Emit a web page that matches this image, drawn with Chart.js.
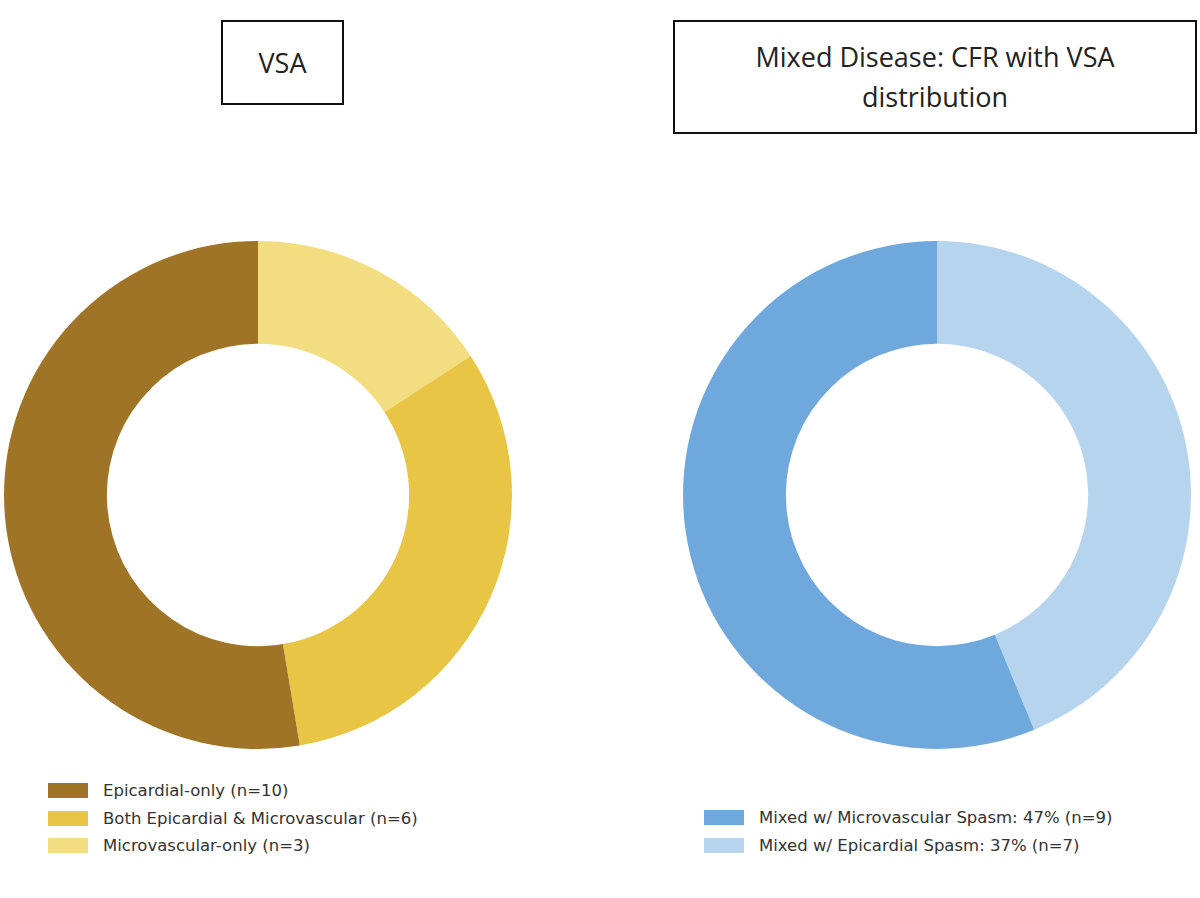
<!DOCTYPE html>
<html><head><meta charset="utf-8">
<script src="https://cdn.jsdelivr.net/npm/chart.js@4"></script>
<style>
body{margin:0;width:1200px;height:898px;background:#fff;position:relative;overflow:hidden;font-family:"DejaVu Sans",sans-serif;}
.title{position:absolute;border:2px solid #111;box-sizing:border-box;font-family:"Open Sans",sans-serif;font-size:27px;color:#222;text-align:center;display:flex;align-items:center;justify-content:center;line-height:40px;}
.cw{position:absolute;width:520px;height:520px;}
.leg{position:absolute;font-size:16.5px;color:#333;}
.row{height:27.5px;display:flex;align-items:center;}
.sw{width:40px;height:15px;margin-right:15px;}
</style></head><body>
<div class="title" style="left:221px;top:20px;width:123px;height:85px;">VSA</div>
<div class="title" style="left:673px;top:20px;width:524px;height:114px;">Mixed Disease: CFR with VSA<br>distribution</div>
<div class="cw" style="left:-2px;top:235px;"><canvas id="c1"></canvas></div>
<div class="cw" style="left:677px;top:235px;"><canvas id="c2"></canvas></div>
<div class="leg" id="l1" style="left:48px;top:777px;"></div>
<div class="leg" id="l2" style="left:704px;top:804px;"></div>
<script>
const vsaLabels=["Epicardial-only (n=10)","Both Epicardial & Microvascular (n=6)","Microvascular-only (n=3)"];
const vsaValues=[10,6,3];
const vsaColors=["#A07426","#E8C545","#F2DD80"];
const mixLabels=["Mixed w/ Microvascular Spasm: 47% (n=9)","Mixed w/ Epicardial Spasm: 37% (n=7)"];
const mixValues=[9,7];
const mixColors=["#6FA8DC","#B7D4EE"];
function donut(id,labels,values,colors,legId){
  const r=a=>a.slice().reverse();
  new Chart(document.getElementById(id),{type:'doughnut',
    data:{labels:r(labels),datasets:[{data:r(values),backgroundColor:r(colors),borderWidth:0}]},
    options:{responsive:false,animation:false,cutout:'59.5%',layout:{padding:6},
      plugins:{legend:{display:false},tooltip:{enabled:false}}}});
  const l=document.getElementById(legId);
  labels.forEach((t,i)=>{l.innerHTML+=`<div class="row"><div class="sw" style="background:${colors[i]}"></div>${t}</div>`;});
}
document.getElementById('c1').width=520;document.getElementById('c1').height=520;
document.getElementById('c2').width=520;document.getElementById('c2').height=520;
donut('c1',vsaLabels,vsaValues,vsaColors,'l1');
donut('c2',mixLabels,mixValues,mixColors,'l2');
</script></body></html>
